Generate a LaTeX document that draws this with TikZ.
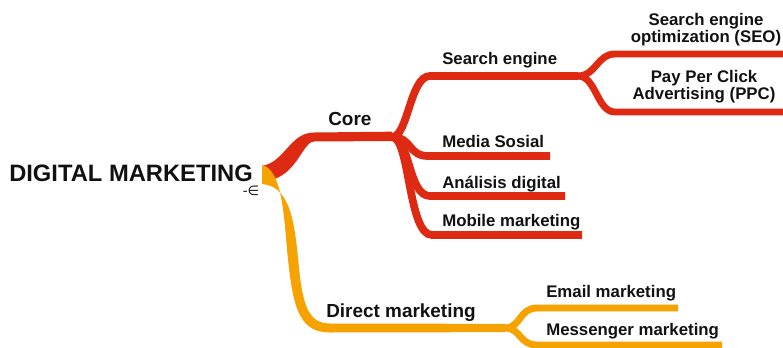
\documentclass[tikz,border=0pt]{standalone}
\usepackage{fontspec}
\setmainfont{Liberation Sans}
\newfontfamily\dejavu{DejaVu Sans}
\definecolor{mred}{RGB}{222,42,18}
\definecolor{morange}{RGB}{246,162,0}
\definecolor{mtext}{RGB}{17,17,17}
\begin{document}
\begin{tikzpicture}[x=0.75pt,y=-0.75pt,
  lab/.style={inner sep=0pt, anchor=base west, text=mtext, font=\bfseries\fontsize{12.6}{12.75}\selectfont},
  lab1/.style={lab, font=\bfseries\fontsize{14.2}{16}\selectfont},
  lab3/.style={inner sep=0pt, anchor=north, align=center, text=mtext, font=\bfseries\fontsize{12.6}{12.75}\selectfont},
  br2/.style={line width=5.8pt, line cap=butt},
  br3/.style={line width=5.2pt, line cap=butt}]
\useasboundingbox (0,0) rectangle (783,347);

% root
\node[inner sep=0pt, anchor=base west, text=mtext, font=\bfseries\fontsize{17.8}{20}\selectfont] (root) at (9,181) {DIGITAL MARKETING};
\node[inner sep=0pt, text=mtext, font=\dejavu\fontsize{10}{10}\selectfont] (icon) at (251,191) {-∈};

% coordinates
\coordinate (coreJ) at (392,137);
\coordinate (seS) at (430,76);
\coordinate (seJ) at (578,76);
\coordinate (seoS) at (615,54);
\coordinate (seoE) at (783,54);
\coordinate (ppcS) at (615,112);
\coordinate (ppcE) at (783,112);
\coordinate (msS) at (428,156);
\coordinate (msE) at (550,156);
\coordinate (anS) at (430,196);
\coordinate (anE) at (565,196);
\coordinate (moS) at (432,235);
\coordinate (moE) at (582,235);
\coordinate (dmJ) at (505,328);
\coordinate (emS) at (537,308);
\coordinate (emE) at (678,308);
\coordinate (meS) at (537,345);
\coordinate (meE) at (722,345);

% red main branch (tapered)
\fill[mred] (262,166) .. controls (285,162) and (290,132.5) .. (314,132.5) -- ([yshift=4pt]coreJ)
  -- ([yshift=-3pt]coreJ) -- (314,141.5) .. controls (302,141.5) and (296,181) .. (262,181) -- cycle;
% red sub-branches
\draw[br2, mred] (coreJ) .. controls +(16,0) and +(-20,0) .. (seS) -- (seJ);
\draw[br2, mred] (coreJ) .. controls +(20,0) and +(-20,0) .. (msS) -- (msE);
\draw[br2, mred] (coreJ) .. controls +(18,0) and +(-22,0) .. (anS) -- (anE);
\draw[br2, mred] (coreJ) .. controls +(18,0) and +(-24,0) .. (moS) -- (moE);
\draw[br3, mred] (seJ) .. controls +(18,0) and +(-18,0) .. (seoS) -- (seoE);
\draw[br3, mred] (seJ) .. controls +(18,0) and +(-18,0) .. (ppcS) -- (ppcE);

% orange main branch (tapered)
\fill[morange] (262,165) .. controls (285,170) and (284,230) .. (289,268)
  .. controls (294,312) and (302,332.5) .. (330,332.5) -- ([yshift=-3.1pt]dmJ)
  -- ([yshift=3.1pt]dmJ) -- (330,323.5) .. controls (311,323.5) and (303,310) .. (299,268)
  .. controls (295,228) and (292,186) .. (262,184) -- cycle;
% orange sub-branches
\draw[br3, morange] (dmJ) .. controls +(16,0) and +(-18,0) .. (emS) -- (emE);
\draw[br3, morange] (dmJ) .. controls +(16,0) and +(-18,0) .. (meS) -- (meE);

% labels
\node[lab1] (core) at (328,125) {Core};
\node[lab] (se) at (442,64) {Search engine};
\node[lab3] (seo) at (706,13) {Search engine\\optimization (SEO)};
\node[lab3] (ppc) at (704,70) {Pay Per Click\\Advertising (PPC)};
\node[lab] (ms) at (442,147.5) {Media Sosial};
\node[lab] (an) at (442,188) {Análisis digital};
\node[lab] (mo) at (442,226) {Mobile marketing};
\node[lab1] (dm) at (326,317) {Direct marketing};
\node[lab] (em) at (546,297) {Email marketing};
\node[lab] (me) at (546,335) {Messenger marketing};
\end{tikzpicture}
\end{document}
